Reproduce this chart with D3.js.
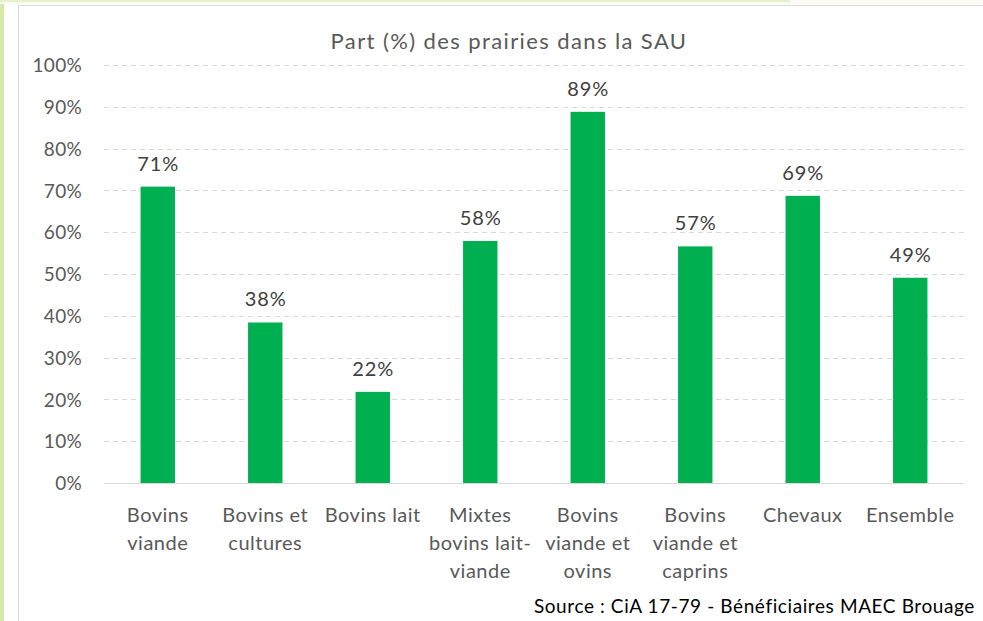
<!DOCTYPE html>
<html>
<head>
<meta charset="utf-8">
<script src="https://cdn.jsdelivr.net/npm/d3@7"></script>
<style>
html,body{margin:0;padding:0;background:#fff;overflow:hidden;}
svg{display:block;}
</style>
</head>
<body>
<svg id="chart" width="983" height="621"></svg>
<script>
const categories = [
  ["Bovins","viande"],
  ["Bovins et","cultures"],
  ["Bovins lait"],
  ["Mixtes","bovins lait-","viande"],
  ["Bovins","viande et","ovins"],
  ["Bovins","viande et","caprins"],
  ["Chevaux"],
  ["Ensemble"]
];
const values = [0.709, 0.384, 0.218, 0.579, 0.888, 0.566, 0.687, 0.491];
const yTicks = [0,0.1,0.2,0.3,0.4,0.5,0.6,0.7,0.8,0.9,1.0];
const titleText = "Part (%) des prairies dans la SAU";
const sourceText = "Source : CiA 17-79 - Bénéficiaires MAEC Brouage";

const FONT = "Lato, 'Open Sans', sans-serif";
const svg = d3.select("#chart");

// page decorations
svg.append("rect").attr("x",0).attr("y",0).attr("width",983).attr("height",4).attr("fill","#fafaf2");
svg.append("rect").attr("x",0).attr("y",0).attr("width",790).attr("height",2).attr("fill","#e4f2cc");
svg.append("rect").attr("x",0).attr("y",4).attr("width",4).attr("height",617).attr("fill","#d5ebaa");
svg.append("rect").attr("x",18.5).attr("y",5.5).attr("width",1000).attr("height",700)
  .attr("fill","#fff").attr("stroke","#d9d9d9").attr("stroke-width",1);

const x0 = 104, x1 = 964, yTop = 65, yBot = 483;
const x = d3.scaleBand().domain(d3.range(categories.length)).range([x0,x1]).paddingInner(0.68).paddingOuter(0.34);
const y = d3.scaleLinear().domain([0,1]).range([yBot,yTop]);

// gridlines
svg.append("g").selectAll("line").data(yTicks.filter(d=>d>0)).join("line")
  .attr("x1",x0).attr("x2",x1)
  .attr("y1",d=>Math.round(y(d))+0.5).attr("y2",d=>Math.round(y(d))+0.5)
  .attr("stroke","#d9d9d9").attr("stroke-width",1).attr("stroke-dasharray","5,4");

// y axis labels
const yAxis = d3.axisLeft(y).tickValues(yTicks).tickFormat(d3.format(".0%")).tickSize(0).tickPadding(0);
const gy = svg.append("g").attr("transform",`translate(${x0-22},0)`).call(yAxis);
gy.select(".domain").remove();
gy.selectAll("text").attr("font-family",FONT).attr("font-size",19).attr("letter-spacing","0.3px")
  .attr("fill","#595959").attr("dy","0.35em");

// bars
svg.append("g").selectAll("rect").data(values).join("rect")
  .attr("x",(d,i)=>x(i)).attr("width",x.bandwidth())
  .attr("y",d=>y(d)).attr("height",d=>yBot-y(d))
  .attr("fill","#00b050");

// baseline
svg.append("line").attr("x1",x0).attr("x2",x1).attr("y1",yBot+0.5).attr("y2",yBot+0.5)
  .attr("stroke","#d9d9d9").attr("stroke-width",1);

// value labels
svg.append("g").selectAll("text").data(values).join("text")
  .attr("x",(d,i)=>x(i)+x.bandwidth()/2+0.5).attr("y",d=>y(d)-16)
  .attr("text-anchor","middle").attr("font-family",FONT).attr("font-size",20).attr("letter-spacing","1px")
  .attr("fill","#404040")
  .text(d=>d3.format(".0%")(d));

// x axis labels
const xAxis = d3.axisBottom(x).tickSize(0).tickFormat(()=>"");
const gx = svg.append("g").attr("transform",`translate(0,${yBot})`).call(xAxis);
gx.select(".domain").remove();
gx.selectAll(".tick").each(function(i){
  const t = d3.select(this).select("text").attr("font-family",FONT).attr("font-size",20)
    .attr("letter-spacing","0.5px")
    .attr("fill","#595959").attr("text-anchor","middle").attr("y",0).attr("dy",null);
  categories[i].forEach((line,k)=>{
    t.append("tspan").attr("x",0).attr("y",39+k*28).text(line);
  });
});

// title
svg.append("text").attr("x",509).attr("y",49).attr("text-anchor","middle")
  .attr("font-family",FONT).attr("font-size",22).attr("letter-spacing","1.4px")
  .attr("fill","#595959").text(titleText);

// source
svg.append("text").attr("x",975).attr("y",613).attr("text-anchor","end")
  .attr("font-family",FONT).attr("font-size",19).attr("letter-spacing","0.6px")
  .attr("fill","#000").text(sourceText);
</script>
</body>
</html>
